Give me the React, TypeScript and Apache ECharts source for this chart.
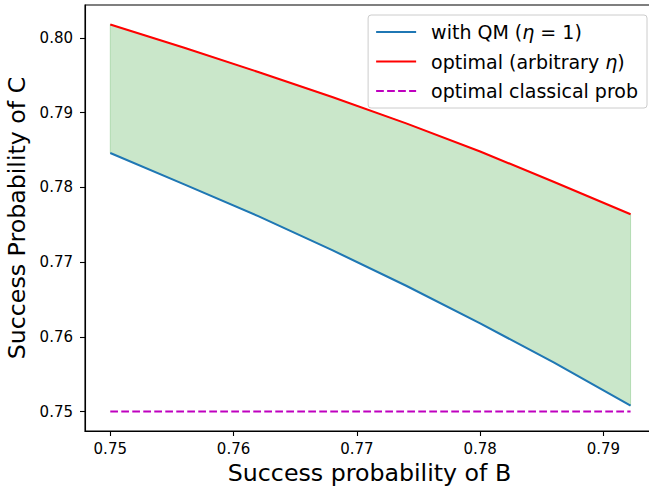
import React, { useEffect, useRef } from "react";
import * as echarts from "echarts";

const xValues = [0.75, 0.756, 0.762, 0.768, 0.774, 0.78, 0.786, 0.7922];
const withQM = [0.7846, 0.7804, 0.77615, 0.7716, 0.76684, 0.7618, 0.75654, 0.7508];
const optimal = [0.8018, 0.79868, 0.79544, 0.79208, 0.78856, 0.7848, 0.78072, 0.7764];
const classicalX = [0.75, 0.7922];
const classical = [0.75, 0.75];
const xTicks = [0.75, 0.76, 0.77, 0.78, 0.79];
const yTicks = [0.75, 0.76, 0.77, 0.78, 0.79, 0.8];

const FONT = "DejaVu Sans";

export default function App() {
  const ref = useRef<HTMLDivElement>(null);
  useEffect(() => {
    if (!ref.current) return;
    const chart = echarts.init(ref.current, null, { renderer: "svg" });
    const pairs = (xs: number[], ys: number[]) => xs.map((x, i) => [x, ys[i]]);
    const option: any = {
      animation: false,
      backgroundColor: "#ffffff",
      grid: {
        left: 85,
        top: 5,
        width: 569,
        height: 426,
        containLabel: false,
        outerBoundsMode: "none",
        show: true,
        borderColor: "#000",
        borderWidth: 1.1,
        backgroundColor: "transparent",
      },
      xAxis: {
        type: "value",
        min: 0.74795,
        max: 0.7941,
        name: "Success probability of B",
        nameLocation: "middle",
        nameGap: 27,
        nameTextStyle: { fontFamily: FONT, fontSize: 23.7, color: "#000" },
        axisLine: { show: true, onZero: false, lineStyle: { color: "#000", width: 1.1 } },
        axisTick: { show: true, length: 5, lineStyle: { color: "#000", width: 1.1 }, customValues: xTicks },
        axisLabel: {
          fontFamily: FONT,
          fontSize: 15,
          color: "#000",
          margin: 10,
          customValues: xTicks,
          formatter: (v: number) => v.toFixed(2),
        },
        splitLine: { show: false },
      },
      yAxis: {
        type: "value",
        min: 0.7474,
        max: 0.8044,
        name: "Success Probability of C",
        nameLocation: "middle",
        nameGap: 55,
        nameTextStyle: { fontFamily: FONT, fontSize: 23.7, color: "#000" },
        axisLine: { show: true, onZero: false, lineStyle: { color: "#000", width: 1.1 } },
        axisTick: { show: true, length: 5, lineStyle: { color: "#000", width: 1.1 }, customValues: yTicks },
        axisLabel: {
          fontFamily: FONT,
          fontSize: 15,
          color: "#000",
          margin: 12,
          customValues: yTicks,
          formatter: (v: number) => v.toFixed(2),
        },
        splitLine: { show: false },
      },
      legend: {
        data: ["with QM", "optimal", "classical"],
        orient: "vertical",
        right: 2,
        top: 15,
        padding: [6, 9, 6, 7],
        itemGap: 7.5,
        itemWidth: 40,
        itemHeight: 14,
        itemStyle: { opacity: 0, borderWidth: 0 },
        backgroundColor: "rgba(255,255,255,0.8)",
        borderColor: "#cccccc",
        borderWidth: 1,
        borderRadius: 3,
        textStyle: {
          fontFamily: FONT,
          fontSize: 19,
          color: "#000",
          lineHeight: 22,
          padding: [0, 0, 0, 10],
          rich: {
            it: { fontFamily: FONT, fontSize: 19, fontStyle: "italic", color: "#000", lineHeight: 22 },
          },
        },
        formatter: (name: string) => {
          if (name === "with QM") return "with QM ({it|η} = 1)";
          if (name === "optimal") return "optimal (arbitrary {it|η})";
          return "optimal classical prob";
        },
      },
      series: [
        {
          name: "band",
          type: "custom",
          silent: true,
          data: [[xValues[0], withQM[0]]],
          encode: { x: 0, y: 1 },
          z: 1,
          renderItem: (params: any, api: any) => {
            const top = xValues.map((x, i) => api.coord([x, optimal[i]]));
            const bottom = xValues.map((x, i) => api.coord([x, withQM[i]])).reverse();
            return {
              type: "polygon",
              shape: { points: top.concat(bottom) },
              style: { fill: "rgba(44,160,44,0.25)", stroke: "rgba(44,160,44,0.25)", lineWidth: 1 },
            };
          },
        },
        {
          name: "classical",
          type: "line",
          symbol: "none",
          lineStyle: { color: "#bf00bf", width: 2.08, type: [7.7, 3.3] },
          itemStyle: { color: "#bf00bf" },
          data: pairs(classicalX, classical),
          z: 3,
        },
        {
          name: "with QM",
          type: "line",
          symbol: "none",
          lineStyle: { color: "#1f77b4", width: 2.08 },
          itemStyle: { color: "#1f77b4" },
          data: pairs(xValues, withQM),
          z: 3,
        },
        {
          name: "optimal",
          type: "line",
          symbol: "none",
          lineStyle: { color: "#ff0000", width: 2.08 },
          itemStyle: { color: "#ff0000" },
          data: pairs(xValues, optimal),
          z: 3,
        },
      ],
    };
    chart.setOption(option);
    return () => chart.dispose();
  }, []);
  return (
    <div
      ref={ref}
      style={{ position: "fixed", left: 0, top: 0, width: 649, height: 489, background: "#fff" }}
    />
  );
}
